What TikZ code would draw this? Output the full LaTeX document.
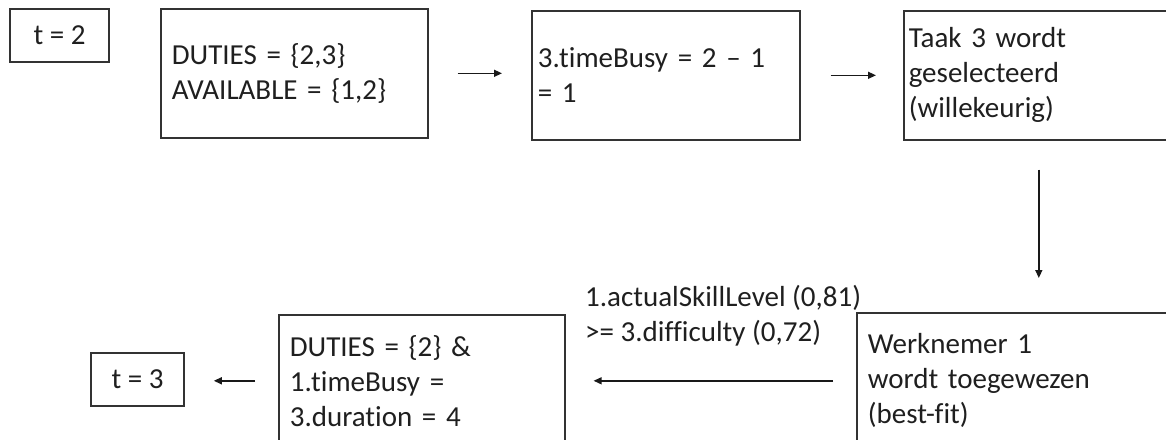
\documentclass[tikz,border=0pt]{standalone}
\usepackage{fontspec}
\setmainfont{Carlito}[Ligatures=NoCommon]
\usetikzlibrary{arrows.meta}
\begin{document}
\begin{tikzpicture}[x=1pt,y=-1pt,
  every node/.style={font=\fontsize{29}{35}\selectfont, text=black!88},
  box/.style={draw=black!80, line width=1.6pt, inner ysep=0pt},
  leftbox/.style={box, align=left, anchor=north west},
  flow/.style={line width=1.4pt, draw=black!90, -{Triangle[length=8pt,width=7pt]}}]
  \useasboundingbox (0,0) rectangle (1166,439);
  \clip (0,0) rectangle (1166,439);

  % top row
  \node[box, minimum width=99pt, minimum height=53pt] (t2) at (59.5,35.5) {t = 2};
  \node[leftbox, minimum height=129pt, inner xsep=11pt, text width=245pt] (d1) at (160,8)
    {DUTIES = \{2,3\}\\AVAILABLE = \{1,2\}};
  \node[leftbox, minimum height=129pt, inner xsep=6pt, text width=256pt] (tb) at (531,10)
    {3.timeBusy = 2 -- 1\\= 1};
  \node[leftbox, minimum height=129pt, inner xsep=5pt, text width=260pt] (taak) at (903,10)
    {Taak 3 wordt\\geselecteerd\\(willekeurig)};

  % bottom row
  \node[leftbox, minimum height=136pt, inner xsep=11pt, text width=308pt] (wn) at (856,312)
    {Werknemer 1\\wordt toegewezen\\(best-fit)};
  \node[leftbox, minimum height=132pt, inner xsep=11pt, text width=264pt] (d2) at (278,314)
    {DUTIES = \{2\} \&\\1.timeBusy =\\3.duration = 4};
  \node[box, minimum width=93pt, minimum height=53pt] (t3) at (137.5,379.5) {t = 3};

  % condition printed above the assignment arrow
  \node[anchor=west, align=left, inner sep=0pt] (cond) at (585,316)
    {1.actualSkillLevel (0,81)\\>= 3.difficulty (0,72)};

  % connectors
  \draw[flow, shorten <=29pt, shorten >=29pt] (d1.east) -- (d1.east -| tb.west);
  \draw[flow, shorten <=30pt, shorten >=27pt] (tb.east) -- (tb.east -| taak.west);
  \draw[flow, shorten <=29pt, shorten >=34pt] (taak.south) -- (taak.south |- wn.north);
  \draw[flow, shorten <=23pt, shorten >=28pt] (wn.west) -- (wn.west -| d2.east);
  \draw[flow, shorten <=23pt, shorten >=29pt] (d2.west) -- (d2.west -| t3.east);
\end{tikzpicture}
\end{document}
